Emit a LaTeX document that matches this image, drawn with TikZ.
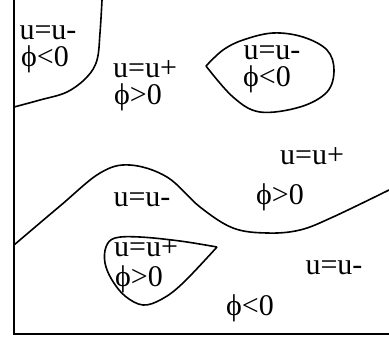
\documentclass[tikz,border=0pt]{standalone}
\usepackage{fontspec}
\setmainfont{Liberation Serif}
\begin{document}
\begin{tikzpicture}[
    x=0.5pt, y=-0.5pt,
    lbl/.style={font=\fontsize{15}{17}\selectfont, inner sep=0pt, text height=1.4ex, text depth=0.1ex},
    bnd/.style={line width=0.8pt, line join=round, smooth, tension=0.6}
  ]
  \useasboundingbox (0,0) rectangle (389,343);

  % frame (left and bottom edge)
  \draw[line width=0.8pt] (14,0) -- (14,334) -- (389,334);

  % interfaces
  \draw[bnd] plot coordinates {(102,0) (100,33) (97,60) (87,77) (67,92) (40,100) (14,107)};
  \draw[bnd] plot coordinates {(206,66) (223,50) (243,40) (273,33) (303,37) (327,50) (334,70)
    (327,92) (300,107) (260,112) (233,97) (206,66)};
  \draw[bnd] plot coordinates {(14,245) (60,206) (100,173) (130,165) (167,177) (200,207)
    (233,228) (267,233) (300,230) (333,217) (389,190)};
  \draw[bnd] plot coordinates {(217,247) (180,241) (140,237) (115,238) (106,247) (105,263)
    (112,280) (125,296) (143,305) (162,299) (183,283) (217,247)};

  % region labels
  \node[lbl] (a1) at (48,34) {u=u-};
  \node[lbl] (a2) at (45,61) {ϕ<0};
  \node[lbl] (b1) at (145,72) {u=u+};
  \node[lbl] (b2) at (138,99) {ϕ>0};
  \node[lbl] (c1) at (272,54) {u=u-};
  \node[lbl] (c2) at (267,81) {ϕ<0};
  \node[lbl] (d1) at (312,159) {u=u+};
  \node[lbl] (d2) at (280,199) {ϕ>0};
  \node[lbl] (e1) at (142,201) {u=u-};
  \node[lbl] (f1) at (146,251) {u=u+};
  \node[lbl] (f2) at (139,281) {ϕ>0};
  \node[lbl] (g1) at (334,269) {u=u-};
  \node[lbl] (g2) at (250,310) {ϕ<0};
\end{tikzpicture}
\end{document}
